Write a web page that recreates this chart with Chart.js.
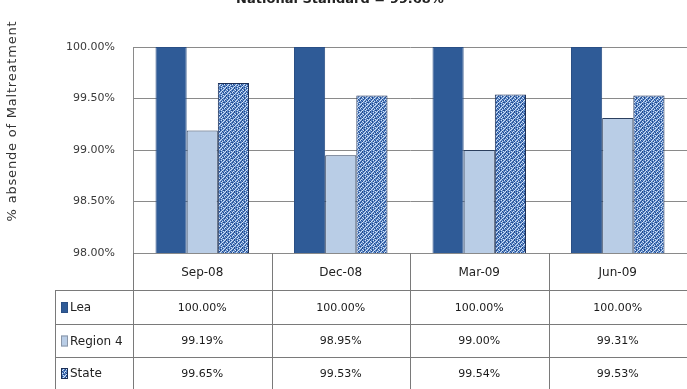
<!DOCTYPE html>
<html><head><meta charset="utf-8">
<script src="https://cdn.jsdelivr.net/npm/chart.js@4"></script>
<style>html,body{margin:0;padding:0;background:#fff;overflow:hidden}#wrap{width:687px;height:389px;position:relative}</style>
</head><body><div id="wrap"><canvas id="c" width="687" height="389" style="width:687px;height:389px"></canvas></div>
<script>
const categories = ['Sep-08', 'Dec-08', 'Mar-09', 'Jun-09'];
const seriesNames = ['Lea', 'Region 4', 'State'];
const leaValues = [100.00, 100.00, 100.00, 100.00];
const region4Values = [99.19, 98.95, 99.00, 99.31];
const stateValues = [99.65, 99.53, 99.54, 99.53];
const yMin = 98, yMax = 100, yStep = 0.5;
const titleText = 'National Standard = 99.68%';
const yAxisTitle = '% absende of Maltreatment';

const FONT = '"DejaVu Sans", Verdana, sans-serif';

function makePattern(ctx) {
  const t = document.createElement('canvas');
  t.width = 8; t.height = 8;
  const g = t.getContext('2d');
  g.fillStyle = '#5f8ccb'; g.fillRect(0, 0, 8, 8);
  const map = [
    'w.d..wd.',
    '.dw.d..w',
    'd..wd.w.',
    '.w.d.wd.',
    'wd..w..d',
    '..dw.dw.',
    'd.w..w.d',
    '.wd.d..w'
  ];
  for (let y = 0; y < 8; y++) for (let x = 0; x < 8; x++) {
    const c = map[y][x];
    if (c === 'w') { g.fillStyle = '#d4e2f5'; g.fillRect(x, y, 1, 1); }
    else if (c === 'd') { g.fillStyle = '#234a8c'; g.fillRect(x, y, 1, 1); }
  }
  return ctx.createPattern(t, 'repeat');
}

const canvas = document.getElementById('c');
const ctx = canvas.getContext('2d');
const statePattern = makePattern(ctx);
const seriesColors = ['#2f5b97', '#b9cde6', statePattern];
const seriesBorders = ['#2a4f85', '#2b3f5e', '#1c2f55'];

const tablePlugin = {
  id: 'tablePlugin',
  afterDraw(chart) {
    const c = chart.ctx, x = chart.scales.x, a = chart.chartArea;
    const n = categories.length;
    const edges = [a.left];
    for (let i = 0; i < n - 1; i++) edges.push((x.getPixelForValue(i) + x.getPixelForValue(i + 1)) / 2);
    edges.push(a.right);
    const tableLeft = 55;
    const rowTops = [a.bottom, 290, 324, 357, 389];
    c.save();
    // title (cut off at top)
    c.font = 'bold 13px ' + FONT;
    c.fillStyle = '#222';
    c.textAlign = 'center'; c.textBaseline = 'alphabetic';
    c.fillText(titleText, 340, 3);
    // y axis title
    c.save();
    c.translate(13, 121);
    c.rotate(-Math.PI / 2);
    c.font = '13px ' + FONT;
    c.letterSpacing = '0.8px';
    c.fillStyle = '#333';
    c.textAlign = 'center'; c.textBaseline = 'middle';
    c.fillText(yAxisTitle, 0, 0);
    c.restore();
    // table lines
    c.strokeStyle = '#7a7a7a'; c.lineWidth = 1;
    c.beginPath();
    for (let r = 1; r < rowTops.length - 1; r++) {
      c.moveTo(tableLeft, rowTops[r] + 0.5); c.lineTo(a.right, rowTops[r] + 0.5);
    }
    c.moveTo(tableLeft + 0.5, rowTops[1]); c.lineTo(tableLeft + 0.5, 389);
    for (let i = 0; i <= n; i++) {
      const ex = Math.round(edges[i]) + 0.5;
      c.moveTo(ex, a.bottom); c.lineTo(ex, 389);
    }
    c.stroke();
    // header labels
    c.font = '12px ' + FONT;
    c.fillStyle = '#222';
    c.textAlign = 'center'; c.textBaseline = 'middle';
    for (let i = 0; i < n; i++) c.fillText(categories[i], x.getPixelForValue(i), (rowTops[0] + rowTops[1]) / 2 + 1);
    // data rows
    const allSeries = [leaValues, region4Values, stateValues];
    for (let s = 0; s < allSeries.length; s++) {
      const cy = (rowTops[s + 1] + rowTops[s + 2]) / 2 + 1;
      c.font = '11px ' + FONT;
      c.fillStyle = '#1a1a1a';
      for (let i = 0; i < n; i++) {
        c.textAlign = 'center';
        c.fillText(allSeries[s][i].toFixed(2) + '%', x.getPixelForValue(i), cy);
      }
      // legend key
      c.fillStyle = seriesColors[s];
      c.fillRect(61, cy - 6, 7, 11);
      c.strokeStyle = s === 1 ? '#8a96a8' : seriesBorders[s];
      c.strokeRect(61.5, cy - 5.5, 6, 10);
      c.font = '12px ' + FONT;
      c.fillStyle = '#222';
      c.textAlign = 'left';
      c.fillText(seriesNames[s], 70, cy);
    }
    c.restore();
  }
};

new Chart(canvas, {
  type: 'bar',
  data: {
    labels: categories,
    datasets: [
      { label: seriesNames[0], data: leaValues, backgroundColor: seriesColors[0], borderColor: seriesBorders[0], borderWidth: 1 },
      { label: seriesNames[1], data: region4Values, backgroundColor: seriesColors[1], borderColor: seriesBorders[1], borderWidth: 1 },
      { label: seriesNames[2], data: stateValues, backgroundColor: seriesColors[2], borderColor: seriesBorders[2], borderWidth: 1 }
    ]
  },
  options: {
    responsive: false,
    animation: false,
    devicePixelRatio: 1,
    layout: { padding: { left: 0, right: 0, top: 47, bottom: 136 } },
    plugins: { legend: { display: false }, title: { display: false }, tooltip: { enabled: false } },
    datasets: { bar: { categoryPercentage: 0.675, barPercentage: 1 } },
    scales: {
      x: { display: false, grid: { display: false } },
      y: {
        min: yMin, max: yMax,
        afterFit(s) { s.width = 133; },
        ticks: {
          stepSize: yStep,
          padding: 18,
          color: '#3a3a3a',
          font: { family: FONT, size: 11 },
          callback: v => v.toFixed(2) + '%'
        },
        grid: { color: '#8a8a8a', drawTicks: false },
        border: { color: '#8a8a8a' }
      }
    }
  },
  plugins: [tablePlugin]
});
</script>
</body></html>
